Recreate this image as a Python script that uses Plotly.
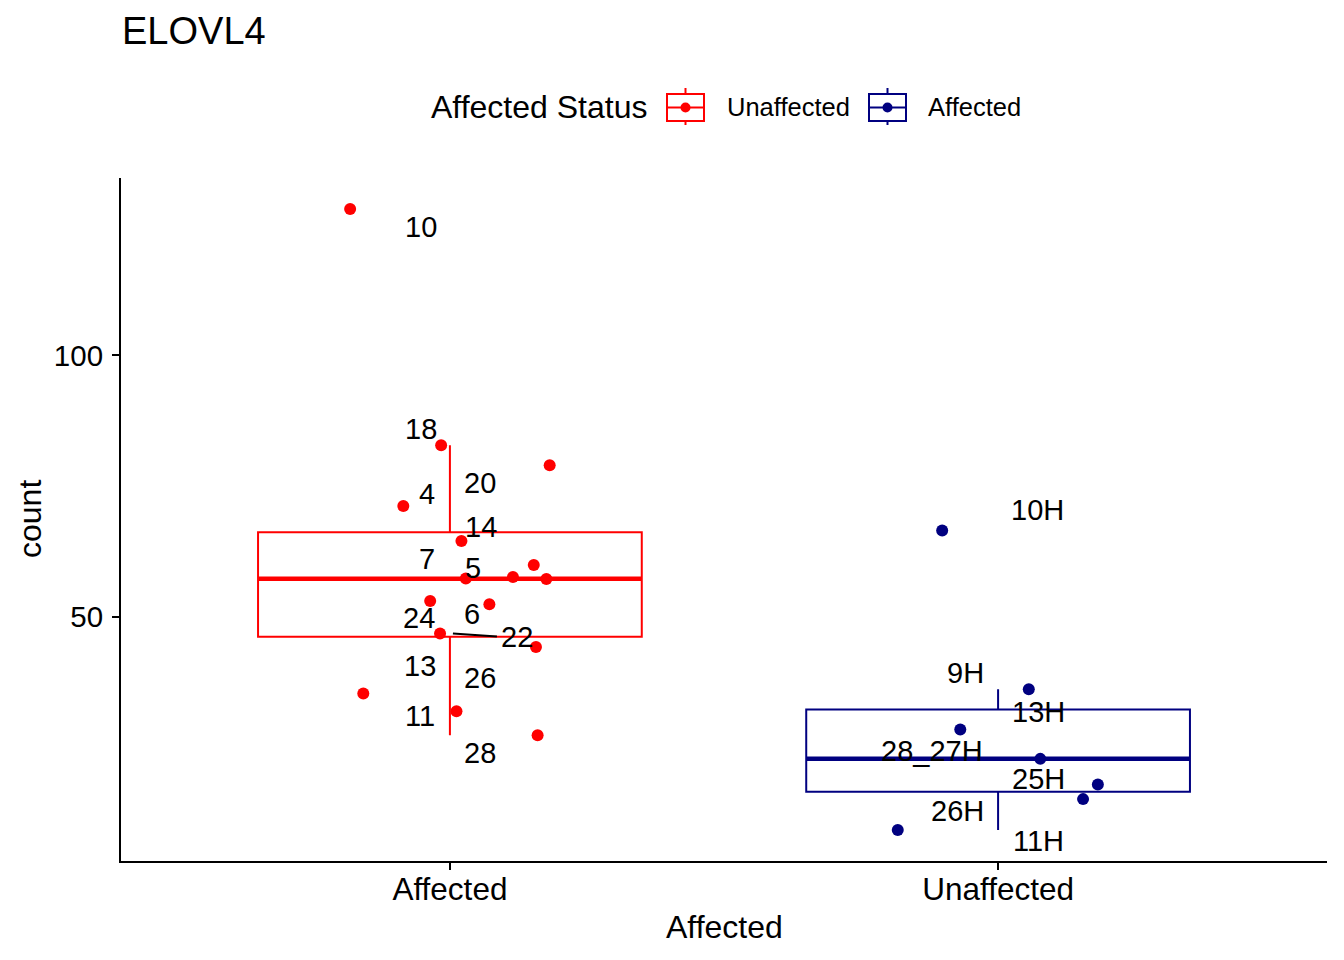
import numpy as np
import plotly.graph_objects as go

# ---- data ----
groups = ["Affected", "Unaffected"]
legend_names = ["Unaffected", "Affected"]   # legend labels as printed, same order as groups

affected_ids = ["10", "18", "20", "4", "14", "7", "5", "", "",
                "24", "6", "22", "13", "26", "11", "28"]
affected_counts = [128.0, 82.8, 79.0, 71.2, 64.5, 59.9, 57.6, 57.3, 57.2,
                   53.0, 52.4, 46.8, 44.2, 35.3, 31.9, 27.3]
affected_jitter = [-0.182, -0.016, 0.182, -0.085, 0.021, 0.153, 0.115, 0.029, 0.176,
                   -0.036, 0.072, -0.018, 0.157, -0.158, 0.012, 0.160]

unaffected_ids = ["10H", "9H", "13H", "28_27H", "25H", "26H", "11H"]
unaffected_counts = [66.5, 36.1, 28.4, 22.8, 17.9, 15.1, 9.2]
unaffected_jitter = [-0.102, 0.056, -0.069, 0.077, 0.182, 0.155, -0.183]

RED = "#FF0000"
NAVY = "#000080"
FONT = "Liberation Sans, Arial, Helvetica, sans-serif"

# label placement (repelled offsets in px from the group centre / count)
label_shift = {
    "10": (-29, -18), "18": (-29, 16), "20": (30, -18), "4": (-23, 12),
    "14": (31, 14), "7": (-23, 6), "5": (23, 9), "24": (-31, -17),
    "6": (22, -10), "22": (67, -4), "13": (-30, -19), "26": (30, 16),
    "11": (-30, -5), "28": (30, -18),
    "10H": (39, 20), "9H": (-33, 16), "13H": (40, 18), "28_27H": (-66, 8),
    "25H": (40, 5), "26H": (-41, -12), "11H": (40, -11),
}
leader = {"22": (3, 0, 47, -3)}   # segment px offsets x0, y0, x1, y1

# page offset of the plot div (browser body margin)
OFF = 8
W, H = 1344 - 2 * OFF, 960 - 2 * OFF
# plot area in page pixels
L, R, T, B = 121, 1327, 178, 861


def px_x(px):
    return (px - L) / (R - L)


def px_y(py):
    return (B - py) / (B - T)


def box_stats(v):
    v = np.asarray(v, dtype=float)
    q1, med, q3 = np.percentile(v, [25, 50, 75])
    iqr = q3 - q1
    hi = v[v <= q3 + 1.5 * iqr].max()
    lo = v[v >= q1 - 1.5 * iqr].min()
    return q1, med, q3, lo, hi


fig = go.Figure()
annotations = []
shapes = []

series = [
    (affected_counts, affected_jitter, affected_ids, RED),
    (unaffected_counts, unaffected_jitter, unaffected_ids, NAVY),
]
for i, (counts, jit, ids, col) in enumerate(series):
    pos = i + 1
    q1, med, q3, lo, hi = box_stats(counts)
    fig.add_trace(go.Box(
        x=[pos], q1=[q1], median=[med], q3=[q3], lowerfence=[lo], upperfence=[hi],
        orientation="v", width=0.7, whiskerwidth=0, boxpoints=False,
        line=dict(color=col, width=2), fillcolor="rgba(0,0,0,0)",
        showlegend=False, hoverinfo="skip",
    ))
    fig.add_trace(go.Scatter(
        x=[pos - 0.35, pos + 0.35], y=[med, med], mode="lines",
        line=dict(color=col, width=4.5), showlegend=False, hoverinfo="skip",
    ))
    fig.add_trace(go.Scatter(
        x=pos + np.array(jit), y=counts, mode="markers",
        marker=dict(color=col, size=12), showlegend=False,
    ))
    for name, c in zip(ids, counts):
        if not name:
            continue
        dx, dy = label_shift[name]
        annotations.append(dict(
            x=pos, y=c, xref="x", yref="y", text=name, showarrow=False,
            xshift=dx, yshift=dy, xanchor="center", yanchor="middle",
            font=dict(size=29, color="black", family=FONT),
        ))
        if name in leader:
            x0, y0, x1, y1 = leader[name]
            shapes.append(dict(
                type="line", xref="x", yref="y",
                xsizemode="pixel", xanchor=pos, x0=x0, x1=x1,
                ysizemode="pixel", yanchor=c, y0=y0, y1=y1,
                line=dict(color="black", width=2),
            ))

# axis titles
annotations.append(dict(x=px_x(724), y=px_y(927), xref="paper", yref="paper",
                        text="Affected", showarrow=False, xanchor="center", yanchor="middle",
                        font=dict(size=32, color="black", family=FONT)))
annotations.append(dict(x=px_x(30), y=px_y(519), xref="paper", yref="paper",
                        text="count", showarrow=False, textangle=-90,
                        xanchor="center", yanchor="middle",
                        font=dict(size=32, color="black", family=FONT)))

# legend drawn by hand (ggplot style box + point key)
annotations.append(dict(x=px_x(429), y=px_y(107), xref="paper", yref="paper",
                        text="Affected Status", showarrow=False, xanchor="left",
                        yanchor="middle", font=dict(size=32, color="black", family=FONT)))
keys = [(legend_names[0], RED, 667, 725), (legend_names[1], NAVY, 869, 926)]
for name, col, x0, tx in keys:
    x1 = x0 + 37
    cx = (x0 + x1) / 2
    cy = 107.5
    shapes.append(dict(type="rect", xref="paper", yref="paper",
                       x0=px_x(x0), x1=px_x(x1), y0=px_y(121), y1=px_y(94),
                       line=dict(color=col, width=2), fillcolor="white"))
    shapes.append(dict(type="line", xref="paper", yref="paper",
                       x0=px_x(x0), x1=px_x(x1), y0=px_y(cy), y1=px_y(cy),
                       line=dict(color=col, width=2)))
    for ya, yb in [(88, 94), (121, 125)]:
        shapes.append(dict(type="line", xref="paper", yref="paper",
                           x0=px_x(cx), x1=px_x(cx), y0=px_y(ya), y1=px_y(yb),
                           line=dict(color=col, width=2)))
    shapes.append(dict(type="circle", xref="paper", yref="paper",
                       x0=px_x(cx - 5), x1=px_x(cx + 5),
                       y0=px_y(cy + 5), y1=px_y(cy - 5),
                       line=dict(color=col, width=0), fillcolor=col))
    annotations.append(dict(x=px_x(tx), y=px_y(107), xref="paper", yref="paper",
                            text=name, showarrow=False, xanchor="left", yanchor="middle",
                            font=dict(size=25.5, color="black", family=FONT)))

all_counts = np.array(affected_counts + unaffected_counts)
span = all_counts.max() - all_counts.min()
y_range = [all_counts.min() - 0.05 * span, all_counts.max() + 0.05 * span]

axis_style = dict(showline=True, linecolor="black", linewidth=2, ticks="outside",
                  ticklen=7, tickwidth=2, tickcolor="black", showgrid=False,
                  zeroline=False)

fig.update_layout(
    width=W, height=H,
    margin=dict(l=L - OFF, r=W - (R - OFF), t=T - OFF, b=H - (B - OFF)),
    plot_bgcolor="white", paper_bgcolor="white",
    title=dict(text="ELOVL4", x=(122 - OFF) / W, xref="container", xanchor="left",
               y=1 - (31 - OFF) / H, yref="container", yanchor="middle",
               font=dict(size=38, color="black", family=FONT)),
    xaxis=dict(range=[0.4, 2.6], tickvals=[1, 2], ticktext=groups,
               ticklabelstandoff=-8,
               tickfont=dict(size=31.5, color="black", family=FONT), **axis_style),
    yaxis=dict(range=y_range, tick0=0, dtick=50, ticklabelstandoff=3,
               tickfont=dict(size=29.5, color="black", family=FONT), **axis_style),
    annotations=annotations, shapes=shapes, showlegend=False,
)

fig.write_html("out.html")
